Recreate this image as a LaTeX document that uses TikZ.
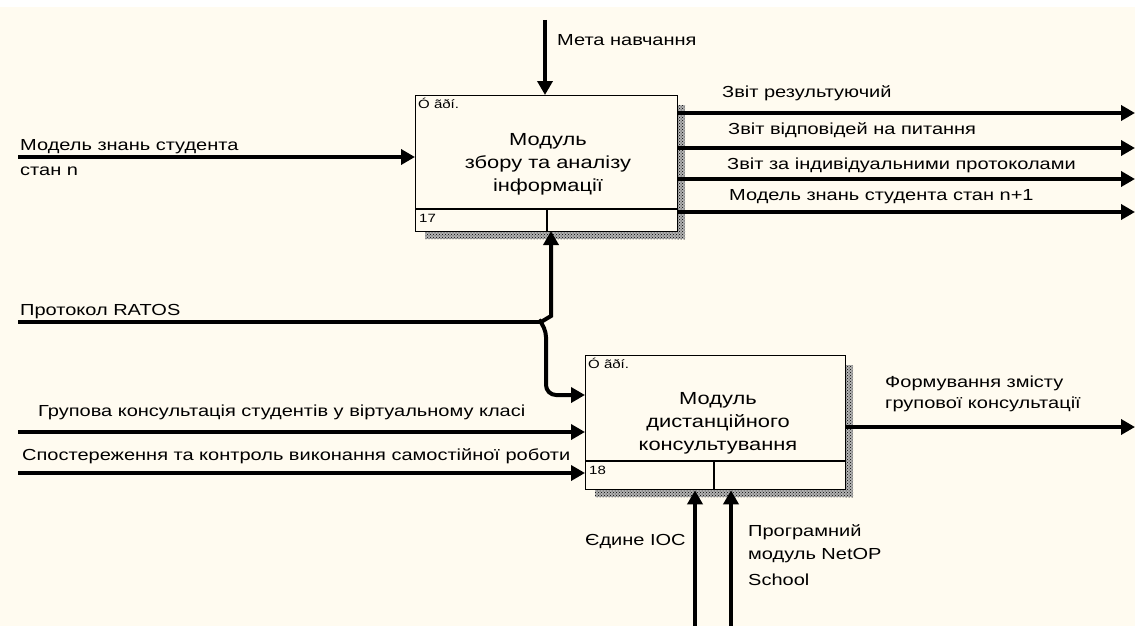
\documentclass[tikz,border=0pt]{standalone}
\usepackage{fontspec}
\setmainfont{Liberation Sans}[FakeStretch=1.25]
\usetikzlibrary{arrows.meta,patterns}
\definecolor{paper}{RGB}{255,251,240}
\tikzset{
  flow/.style={line width=4pt,-{Triangle[length=14pt,width=15pt]}},
  flowline/.style={line width=4pt},
  actbox/.style={draw,line width=1.3pt,fill=paper,inner sep=0pt,anchor=north west},
  shadow/.style={preaction={fill=black!30},pattern=crosshatch dots,pattern color=black},
  lbl/.style={font=\fontsize{16}{18}\selectfont,anchor=west,inner sep=0pt},
  boxtext/.style={font=\fontsize{17.5}{23}\selectfont,align=center,inner sep=0pt},
  tiny/.style={font=\fontsize{12}{12}\selectfont,anchor=north west,inner sep=0pt}
}
\begin{document}
\begin{tikzpicture}[x=1pt,y=-1pt]
\useasboundingbox (0,0) rectangle (1135,626);
\fill[white] (0,0) rectangle (1135,626);
\fill[paper] (0,7) rectangle (1135,626);

% shadows of the two activity boxes
\fill[shadow] (677,105) rectangle (685,239);
\fill[shadow] (425,231) rectangle (685,239);
\fill[shadow] (845,365) rectangle (853,497);
\fill[shadow] (595,489) rectangle (853,497);

% activity boxes
\node[actbox,minimum width=262pt,minimum height=136pt] (box1) at (415,95) {};
\node[actbox,minimum width=260pt,minimum height=134pt] (box2) at (585,355) {};
\draw[line width=1.3pt] (415,209) -- (677,209) (547,209) -- (547,231);
\draw[line width=1.3pt] (585,461) -- (845,461) (714,461) -- (714,489);
\node[boxtext] (t1) at (548,164) {Модуль\\збору та аналізу\\інформації};
\node[boxtext] (t2) at (718,423) {Модуль\\дистанційного\\консультування};
\node[tiny] (c1) at (418,98) {Ó ãðí.};
\node[tiny] (c2) at (588,358) {Ó ãðí.};
\node[tiny] (n1) at (419,214) {17};
\node[tiny] (n2) at (589,466) {18};

% free ends of the connectors
\coordinate (mtop) at (545,20);
\coordinate (min) at (18,157);
\coordinate (rin) at (18,322);
\coordinate (gin) at (18,432);
\coordinate (sin) at (18,473);
\coordinate (o1) at (1135,113);
\coordinate (o2) at (1135,148);
\coordinate (o3) at (1135,179);
\coordinate (o4) at (1135,212);
\coordinate (o5) at (1135,427);
\coordinate (b1) at (695,626);
\coordinate (b2) at (731,626);
\coordinate (jn) at (541,322);

% controls, inputs, outputs, mechanisms
\draw[flow] (mtop) -- (mtop |- box1.north);
\draw[flow] (min) -- (min -| box1.west);
\draw[flow] (box1.east |- o1) -- (o1);
\draw[flow] (box1.east |- o2) -- (o2);
\draw[flow] (box1.east |- o3) -- (o3);
\draw[flow] (box1.east |- o4) -- (o4);
\draw[flowline] (rin) -- (jn);
\draw[flow] (jn) -- (551,316) -- (551,231);
\draw[flow,rounded corners=10pt] (jn) -- (546,327) -- (546,395) -- (box2.west |- 0,395);
\draw[flow] (gin) -- (gin -| box2.west);
\draw[flow] (sin) -- (sin -| box2.west);
\draw[flow] (box2.east |- o5) -- (o5);
\draw[flow] (b1) -- (b1 |- box2.south);
\draw[flow] (b2) -- (b2 |- box2.south);

% labels
\node[lbl] (lm) at (557,40) {Мета навчання};
\node[lbl] (li1) at (20,147) {Модель знань студента};
\node[lbl] (li2) at (20,171) {стан n};
\node[lbl] (lo1) at (722,93) {Звіт результуючий};
\node[lbl] (lo2) at (728,130) {Звіт відповідей на питання};
\node[lbl] (lo3) at (727,165) {Звіт за індивідуальними протоколами};
\node[lbl] (lo4) at (729,197) {Модель знань студента стан n+1};
\node[lbl] (lr) at (20,312) {Протокол RATOS};
\node[lbl] (lg) at (38,412) {Групова консультація студентів у віртуальному класі};
\node[lbl] (ls) at (22,456) {Спостереження та контроль виконання самостійної роботи};
\node[lbl] (lf1) at (885,383) {Формування змісту};
\node[lbl] (lf2) at (885,404) {групової консультації};
\node[lbl] (le) at (585,542) {Єдине ІОС};
\node[lbl] (lp1) at (748,532) {Програмний};
\node[lbl] (lp2) at (748,556) {модуль NetOP};
\node[lbl] (lp3) at (748,580) {School};
\end{tikzpicture}
\end{document}
